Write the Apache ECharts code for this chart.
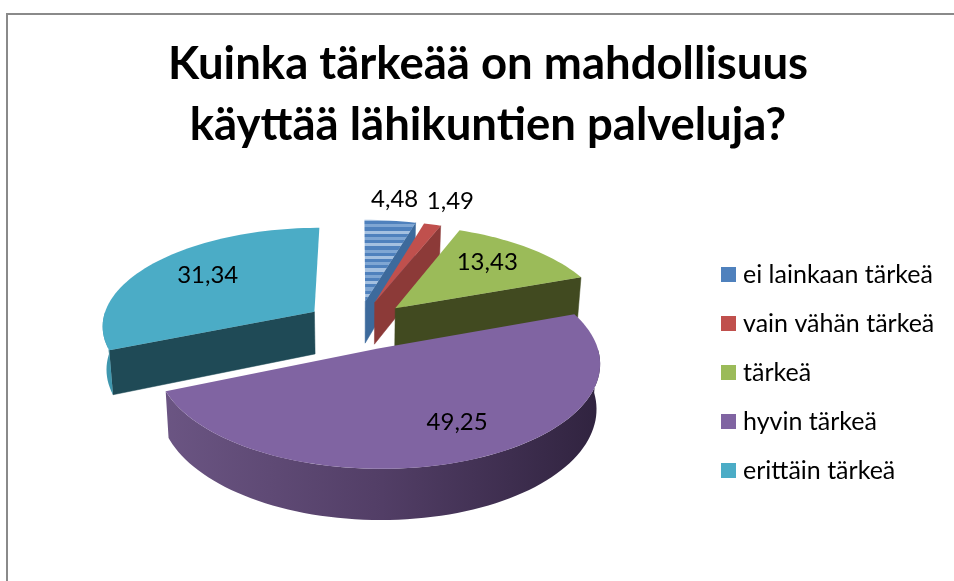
<!DOCTYPE html>
<html>
<head>
<meta charset="utf-8">
<script src="https://cdn.jsdelivr.net/npm/echarts@6/dist/echarts.min.js"></script>
<style>
html, body { margin: 0; padding: 0; background: #fff; }
#chart { width: 954px; height: 581px; }
</style>
</head>
<body>
<div id="chart"></div>
<script>
// === Donnees ===
const categories = ['ei lainkaan tärkeä', 'vain vähän tärkeä', 'tärkeä', 'hyvin tärkeä', 'erittäin tärkeä'];
const values = [4.48, 1.49, 13.43, 49.25, 31.34];
const chartTitle = 'Kuinka tärkeää on mahdollisuus\nkäyttää lähikuntien palveluja?';

// === Couleurs ===
const topColors = ['#4f81bd', '#c0504d', '#9bbb59', '#8064a2', '#4bacc6'];
const wallColors = ['#3d6a9c', '#8c3a38', '#414a20', '#5d4678', '#1f4a56'];
const rimColors = ['#3d6a9c', '#8c3a38', '#414a20', '#5d4678', '#3f97ae'];

// === Reglages de la "3D" ===
const cx = 358, cy = 325;        // centre du camembert
const radiusX = 213, radiusY = 98;
const persp = 0.13;              // force de la perspective
const depth = 43;                // hauteur du bord
const converge = 0.985;          // les verticales se resserrent vers le bas
const explode = [0.25, 0.25, 0.25, 0.25, 0.25];
const drawOrder = [4, 0, 1, 2, 3];   // du fond vers l'avant
const labelFrac = [1.3, 1.3, 0.7, 0.55, 0.62];
const labelNudge = [[-2, 0], [3, -3], [-4, -3], [30, 17], [-5, -5]];

const total = values.reduce((a, b) => a + b, 0);
const rad = d => d * Math.PI / 180;

// angles en degres, sens horaire depuis midi
const starts = [];
let cumul = 0;
values.forEach(v => {
    starts.push(cumul / total * 360);
    cumul += v;
});

function project(u, v, down) {
    const s = 1 / (1 - persp * v);
    const x = cx + radiusX * u * s;
    if (!down) return [x, cy + radiusY * v * s];
    return [cx + (x - cx) * converge, cy + radiusY * v * s + depth * s];
}

function stripes(i) {
    // le reflet raye sur la tranche bleue
    if (i !== 0) return topColors[i];
    const stops = [];
    const n = 26;
    for (let k = 0; k < n; k++) {
        const c = k % 2 ? '#4f81bd' : (k % 4 ? '#7fa6d3' : '#a4c0e0');
        stops.push({ offset: k / n, color: c }, { offset: (k + 1) / n, color: c });
    }
    return new echarts.graphic.LinearGradient(0, 218, 0, 300, stops, true);
}

function renderSlice(i) {
    const a0 = starts[i];
    const a1 = a0 + values[i] / total * 360;
    const mid = (a0 + a1) / 2;
    const ex = explode[i] * Math.sin(rad(mid));
    const ev = -explode[i] * Math.cos(rad(mid));
    const pt = (a, r, down) => project(ex + r * Math.sin(rad(a)), ev - r * Math.cos(rad(a)), down);

    const children = [];
    const quad = (a, fill) => children.push({
        type: 'polygon',
        shape: { points: [pt(a, 0), pt(a, 1), pt(a, 1, true), pt(a, 0, true)] },
        style: { fill: fill, stroke: fill, lineWidth: 0.5 }
    });

    // faces radiales visibles
    if (Math.sin(rad(a0)) < 0) quad(a0, wallColors[i]);
    if (Math.sin(rad(a1)) > 0.01) quad(a1, wallColors[i]);

    // bord exterieur, seulement la partie tournee vers nous
    const r0 = Math.max(a0, 90), r1 = Math.min(a1, 270);
    if (r1 > r0) {
        const rimTop = [], rimBottom = [];
        for (let a = r0; a < r1; a += 2) {
            rimTop.push(pt(a, 1));
            rimBottom.unshift(pt(a, 1, true));
        }
        rimTop.push(pt(r1, 1));
        rimBottom.unshift(pt(r1, 1, true));
        const fill = i === 3
            ? new echarts.graphic.LinearGradient(164, 0, 600, 0, [
                { offset: 0, color: '#6b5583' },
                { offset: 0.5, color: '#523e66' },
                { offset: 1, color: '#30233f' }
            ], true)
            : rimColors[i];
        children.push({
            type: 'polygon',
            shape: { points: rimTop.concat(rimBottom) },
            style: { fill: fill }
        });
    }

    // face du dessus
    const topPts = [pt(a0, 0)];
    for (let a = a0; a < a1; a += 2) topPts.push(pt(a, 1));
    topPts.push(pt(a1, 1));
    children.push({
        type: 'polygon',
        shape: { points: topPts },
        style: { fill: stripes(i) }
    });

    // etiquette
    const lp = pt(mid, labelFrac[i]);
    children.push({
        type: 'text',
        z2: 10,
        style: {
            text: values[i].toFixed(2).replace('.', ','),
            x: lp[0] + labelNudge[i][0],
            y: lp[1] + labelNudge[i][1],
            textAlign: 'center',
            textVerticalAlign: 'middle',
            font: '24px Lato',
            fill: '#000'
        }
    });
    return { type: 'group', children: children };
}

const myChart = echarts.init(document.getElementById('chart'));
myChart.setOption({
    animation: false,
    backgroundColor: '#fff',
    title: {
        text: chartTitle,
        left: 483,
        top: 29,
        textAlign: 'center',
        textStyle: { fontFamily: 'Lato', fontWeight: 'bold', fontSize: 45.5, lineHeight: 61, color: '#000' }
    },
    legend: {
        orient: 'vertical',
        left: 716,
        top: 257,
        data: categories,
        icon: 'rect',
        itemWidth: 15,
        itemHeight: 15,
        itemGap: 24,
        selectedMode: false,
        textStyle: { fontFamily: 'Lato', fontSize: 25, color: '#000', padding: [0, 0, 0, 2] }
    },
    graphic: [{
        type: 'rect',
        silent: true,
        shape: { x: 7, y: 14, width: 1000, height: 1000 },
        style: { fill: 'none', stroke: '#8a8a8a', lineWidth: 2 }
    }],
    series: categories.map((name, i) => ({
        type: 'custom',
        name: name,
        coordinateSystem: 'none',
        z: 2 + drawOrder.indexOf(i),
        itemStyle: { color: topColors[i] },
        data: [values[i]],
        renderItem: () => renderSlice(i)
    }))
});
window.addEventListener('resize', () => myChart.resize());
</script>
</body>
</html>
